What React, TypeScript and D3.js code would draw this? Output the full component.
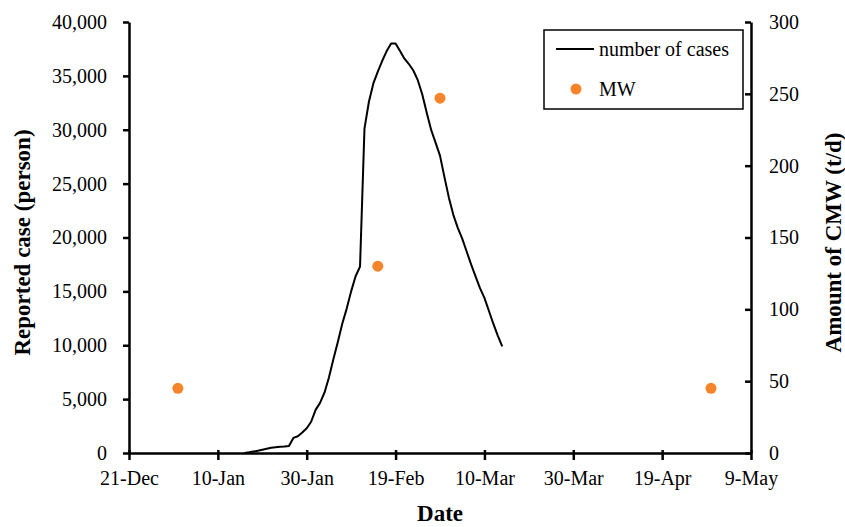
import { useEffect, useRef } from 'react'
import * as d3 from 'd3'

// daily number of cases, starting 16 Jan 2020
const caseStart = '2020-01-16'
const caseValues = [
  0, 60, 130, 200, 300, 400, 480, 540, 580, 610, 650, 1400, 1550, 1900, 2300, 2900,
  4000, 4650, 5600, 7000, 8700, 10300, 12000, 13400, 15000, 16400, 17300, 30100, 32600,
  34300, 35400, 36400, 37300, 38000, 38000, 37300, 36600, 36100, 35500, 34600, 33300,
  31600, 30000, 28800, 27600, 25600, 23700, 22100, 20900, 19900, 18700, 17500, 16400,
  15300, 14400, 13200, 12000, 10900, 9900,
]

// medical waste (t/d)
const mwDates = ['2020-01-01', '2020-02-15', '2020-02-29', '2020-04-30']
const mwValues = [45, 130, 247, 45]

const xTicks = ['2019-12-21', '2020-01-10', '2020-01-30', '2020-02-19', '2020-03-10', '2020-03-30', '2020-04-19', '2020-05-09']
const leftTicks = [0, 5000, 10000, 15000, 20000, 25000, 30000, 35000, 40000]
const rightTicks = [0, 50, 100, 150, 200, 250, 300]

const parse = d3.timeParse('%Y-%m-%d')

const App = () => {
  const ref = useRef<SVGSVGElement>(null)

  useEffect(() => {
    const svg = d3.select(ref.current)
    svg.selectAll('*').remove()

    const W = 845
    const H = 527
    const left = 129
    const right = 751
    const top = 22
    const bottom = 453
    const font = '"Liberation Serif", "Times New Roman", serif'

    const x = d3.scaleTime().domain([parse(xTicks[0])!, parse(xTicks[xTicks.length - 1])!]).range([left, right])
    const yL = d3.scaleLinear().domain([0, 40000]).range([bottom, top])
    const yR = d3.scaleLinear().domain([0, 300]).range([bottom, top])

    svg.attr('width', W).attr('height', H).style('display', 'block')
    svg.append('rect').attr('width', W).attr('height', H).attr('fill', '#fff')

    const start = parse(caseStart)!
    const cases = caseValues.map((v, i) => ({ date: d3.timeDay.offset(start, i), v }))

    const line = d3
      .line<{ date: Date; v: number }>()
      .x((d) => x(d.date))
      .y((d) => yL(d.v))

    svg
      .append('path')
      .datum(cases)
      .attr('fill', 'none')
      .attr('stroke', '#000')
      .attr('stroke-width', 2)
      .attr('stroke-linejoin', 'round')
      .attr('d', line)

    svg
      .selectAll('.mw')
      .data(mwDates.map((d, i) => ({ date: parse(d)!, v: mwValues[i] })))
      .enter()
      .append('circle')
      .attr('cx', (d) => x(d.date))
      .attr('cy', (d) => yR(d.v))
      .attr('r', 5.5)
      .attr('fill', '#f5842a')

    // axes
    const xAxis = d3
      .axisBottom(x)
      .tickValues(xTicks.map((d) => parse(d)!))
      .tickFormat((d) => d3.timeFormat('%-d-%b')(d as Date))
      .tickSizeInner(7)
      .tickSizeOuter(0)
      .tickPadding(8)
    const gx = svg.append('g').attr('transform', `translate(0,${bottom})`).call(xAxis)
    gx.selectAll('.tick line').attr('y1', -3)

    const yAxisL = d3.axisLeft(yL).tickValues(leftTicks).tickFormat(d3.format(',')).tickSizeInner(6).tickSizeOuter(0).tickPadding(16)
    const gl = svg.append('g').attr('transform', `translate(${left},0)`).call(yAxisL)

    const yAxisR = d3.axisRight(yR).tickValues(rightTicks).tickSizeInner(-6).tickSizeOuter(0).tickPadding(18)
    const gr = svg.append('g').attr('transform', `translate(${right},0)`).call(yAxisR)

    ;[gx, gl, gr].forEach((g) => {
      g.selectAll('path.domain').attr('stroke', '#000').attr('stroke-width', 2.5)
      g.selectAll('.tick line').attr('stroke', '#000').attr('stroke-width', 2.5)
      g.selectAll('text').attr('font-family', font).attr('font-size', 20).attr('fill', '#000')
    })
    gx.selectAll('text').attr('dy', '0.85em')

    // axis titles
    const title = (t: string, tx: number, ty: number, rot: number) =>
      svg
        .append('text')
        .attr('transform', `translate(${tx},${ty}) rotate(${rot})`)
        .attr('text-anchor', 'middle')
        .attr('font-family', font)
        .attr('font-weight', 'bold')
        .attr('font-size', 23)
        .text(t)

    title('Date', 440, 521, 0)
    title('Reported case (person)', 30, (top + bottom) / 2 + 5, -90)
    title('Amount of CMW (t/d)', 841, (top + bottom) / 2 + 5, -90)

    // legend
    const lg = svg.append('g').attr('transform', 'translate(544,30)')
    lg.append('rect').attr('width', 199).attr('height', 79).attr('fill', '#fff').attr('stroke', '#000').attr('stroke-width', 1.5)
    lg.append('line').attr('x1', 12).attr('x2', 50).attr('y1', 19).attr('y2', 19).attr('stroke', '#000').attr('stroke-width', 2)
    lg.append('text').attr('x', 55).attr('y', 26).attr('font-family', font).attr('font-size', 20).text('number of cases')
    lg.append('circle').attr('cx', 32).attr('cy', 59).attr('r', 5.5).attr('fill', '#f5842a')
    lg.append('text').attr('x', 55).attr('y', 66).attr('font-family', font).attr('font-size', 20).text('MW')
  }, [])

  return <svg ref={ref} style={{ position: 'absolute', left: 0, top: 0 }} />
}

export default App
